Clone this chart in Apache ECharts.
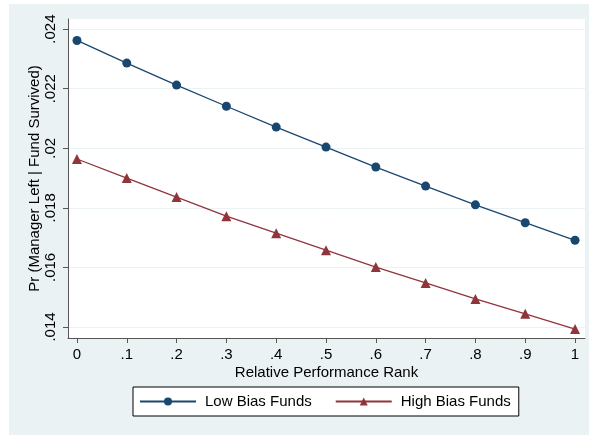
<!DOCTYPE html>
<html><head><meta charset="utf-8">
<script src="https://cdn.jsdelivr.net/npm/echarts@6/dist/echarts.min.js"></script>
<style>html,body{margin:0;padding:0;background:#fff}#c{width:589px;height:435px}</style>
</head><body><div id="c"></div>
<script>
const ranks = [0, 0.1, 0.2, 0.3, 0.4, 0.5, 0.6, 0.7, 0.8, 0.9, 1];
const lowBias = [0.02362, 0.02286, 0.02212, 0.02141, 0.02071, 0.02004, 0.01937, 0.01873, 0.01810, 0.01750, 0.01691];
const highBias = [0.01964, 0.01900, 0.01836, 0.01772, 0.01715, 0.01658, 0.01601, 0.01548, 0.01494, 0.01444, 0.01393];
const xTicks = [0, 0.1, 0.2, 0.3, 0.4, 0.5, 0.6, 0.7, 0.8, 0.9, 1];
const yTicks = [0.014, 0.016, 0.018, 0.020, 0.022, 0.024];
const seriesNames = ['Low Bias Funds', 'High Bias Funds'];

const FONT = 'Liberation Sans, Arial, sans-serif';
const chart = echarts.init(document.getElementById('c'), null, {renderer: 'canvas'});
const fmtX = v => { const r = Math.round(v * 10) / 10; return r === 0 ? '0' : r === 1 ? '1' : String(r).replace(/^0/, ''); };
const fmtY = v => { let s = (Math.round(v * 1000) / 1000).toString(); return s.replace(/^0/, ''); };
chart.setOption({
  animation: false,
  backgroundColor: '#ffffff',
  graphic: [{type: 'rect', shape: {x: 9, y: 4, width: 580, height: 431}, style: {fill: '#eaf2f3'}, z: -10, silent: true}],
  grid: {left: 68, right: 4, top: 19, bottom: 97, show: true, backgroundColor: '#ffffff', borderWidth: 0},
  xAxis: {
    type: 'value', min: -0.018, max: 1.02,
    name: 'Relative Performance Rank', nameLocation: 'middle', nameGap: 27, nameMoveOverlap: false,
    nameTextStyle: {fontFamily: FONT, fontSize: 15, color: '#000'},
    axisLine: {show: true, onZero: false, lineStyle: {color: '#555', width: 1}},
    axisTick: {show: true, length: 5, customValues: xTicks, lineStyle: {color: '#555'}},
    axisLabel: {customValues: xTicks, formatter: fmtX, fontFamily: FONT, fontSize: 15, color: '#000', margin: 9},
    splitLine: {show: false}
  },
  yAxis: {
    type: 'value', min: 0.01363, max: 0.02434,
    name: 'Pr (Manager Left | Fund Survived)', nameLocation: 'middle', nameGap: 26, nameRotate: 90, nameMoveOverlap: false,
    nameTextStyle: {fontFamily: FONT, fontSize: 15, color: '#000'},
    axisLine: {show: true, onZero: false, lineStyle: {color: '#555', width: 1}},
    axisTick: {show: true, length: 5, customValues: yTicks, lineStyle: {color: '#555'}},
    axisLabel: {customValues: yTicks, formatter: fmtY, rotate: 90, fontFamily: FONT, fontSize: 15, color: '#000', margin: 10},
    splitLine: {show: true, lineStyle: {color: '#eaf2f3', width: 1}}
  },
  legend: {
    data: seriesNames, left: 133, top: 387,
    backgroundColor: '#fff', borderColor: '#000', borderWidth: 1,
    padding: [7, 8, 7, 6], itemGap: 23, itemWidth: 56, itemHeight: 10,
    textStyle: {fontFamily: FONT, fontSize: 15, color: '#000', padding: [0, 0, 0, 4]}
  },
  series: [
    {name: seriesNames[0], type: 'line', data: ranks.map((x, i) => [x, lowBias[i]]),
     symbol: 'circle', symbolSize: 9, color: '#1a476f', lineStyle: {width: 1.3, color: '#1a476f'}, itemStyle: {color: '#1a476f'}},
    {name: seriesNames[1], type: 'line', data: ranks.map((x, i) => [x, highBias[i]]),
     symbol: 'triangle', symbolSize: 10, color: '#90353b', lineStyle: {width: 1.3, color: '#90353b'}, itemStyle: {color: '#90353b'}}
  ]
});
</script></body></html>
